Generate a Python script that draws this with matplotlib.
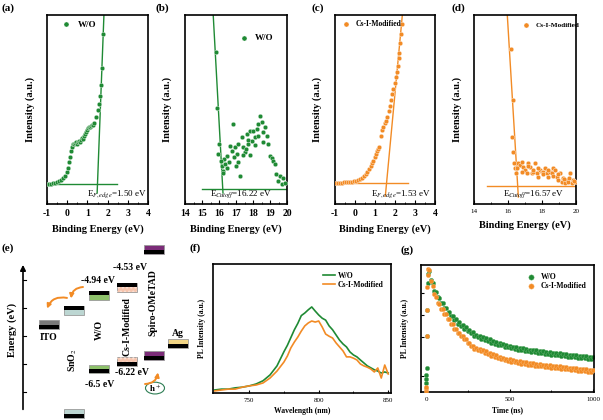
import matplotlib
matplotlib.use('Agg')
import matplotlib.pyplot as plt
from matplotlib.patches import Rectangle, Ellipse, FancyArrowPatch
import numpy as np

plt.rcParams['font.family'] = ['Liberation Serif', 'DejaVu Serif']
plt.rcParams['mathtext.fontset'] = 'stix'
plt.rcParams['axes.unicode_minus'] = False

GREEN = '#1f8a34'
ORANGE = '#f28b25'

# ---- (a) UPS valence edge, W/O
a_x = [-1.0, -0.9, -0.8, -0.7, -0.6, -0.5, -0.4, -0.3, -0.2, -0.1, 0.0, 0.05, 0.1, 0.15,
       0.2, 0.25, 0.3, 0.35, 0.4, 0.45, 0.5, 0.55, 0.6, 0.65, 0.7, 0.75, 0.8, 0.85, 0.9,
       0.95, 1.0, 1.05, 1.1, 1.15, 1.2, 1.25, 1.3, 1.35, 1.42, 1.5, 1.56, 1.62, 1.68, 1.73, 1.78]
a_y = [0.105, 0.107, 0.108, 0.110, 0.112, 0.115, 0.12, 0.128, 0.136, 0.15, 0.17, 0.19, 0.22,
       0.25, 0.28, 0.30, 0.315, 0.32, 0.325, 0.33, 0.32, 0.33, 0.335, 0.33, 0.34, 0.35, 0.345,
       0.36, 0.37, 0.38, 0.39, 0.40, 0.405, 0.41, 0.415, 0.42, 0.42, 0.43, 0.46, 0.50, 0.53,
       0.57, 0.63, 0.72, 0.90]

# ---- (b) secondary electron cutoff, W/O
b_x = [15.80, 15.86, 16.0, 15.96, 16.16, 16.22, 16.35, 16.49, 16.65, 16.75, 16.84, 16.94,
       17.04, 17.14, 17.24, 17.33, 17.43, 17.53, 17.63, 17.73, 17.82, 17.92, 18.02, 18.12,
       18.22, 18.31, 18.41, 18.51, 18.61, 18.71, 18.80, 18.90, 19.0, 19.10, 19.2, 19.29,
       19.35, 19.49, 19.59, 19.69, 19.78, 19.88, 16.3, 16.6, 16.9, 17.1, 17.4, 17.6, 17.0,
       16.45, 16.25, 16.1, 17.7, 18.1, 18.3, 18.6, 17.8]
b_y = [0.805, 0.509, 0.317, 0.264, 0.202, 0.176, 0.211, 0.255, 0.309, 0.282, 0.424, 0.30,
       0.264, 0.317, 0.149, 0.353, 0.30, 0.273, 0.37, 0.317, 0.388, 0.335, 0.388, 0.353,
       0.397, 0.424, 0.468, 0.432, 0.379, 0.406, 0.362, 0.317, 0.255, 0.246, 0.229, 0.211,
       0.158, 0.122, 0.149, 0.105, 0.14, 0.113, 0.24, 0.22, 0.25, 0.22, 0.26, 0.29, 0.20,
       0.19, 0.166, 0.23, 0.34, 0.31, 0.36, 0.33, 0.26]

# ---- (c) UPS valence edge, Cs-I-Modified
c_x = [-0.95, -0.85, -0.75, -0.65, -0.55, -0.45, -0.35, -0.25, -0.15, -0.05, 0.05, 0.15,
       0.25, 0.35, 0.45, 0.55, 0.62, 0.7, 0.78, 0.85, 0.92, 1.0, 1.05, 1.1, 1.15, 1.2, 1.28,
       1.35, 1.42, 1.48, 1.55, 1.62, 1.68, 1.74, 1.8, 1.86, 1.92, 1.98, 2.03, 2.08, 2.13,
       2.18, 2.22, 2.27, 2.31, 2.35]
c_y = [0.11, 0.112, 0.113, 0.112, 0.115, 0.114, 0.116, 0.118, 0.117, 0.12, 0.122, 0.126,
       0.132, 0.14, 0.148, 0.16, 0.17, 0.185, 0.2, 0.215, 0.23, 0.25, 0.265, 0.28, 0.29,
       0.30, 0.36, 0.39, 0.41, 0.43, 0.44, 0.46, 0.49, 0.52, 0.55, 0.58, 0.61, 0.64, 0.67,
       0.70, 0.73, 0.77, 0.80, 0.85, 0.90, 0.95]

# ---- (d) secondary electron cutoff, Cs-I-Modified
d_x = [16.16, 16.27, 16.22, 16.31, 16.37, 16.41, 16.47, 16.51, 16.61, 16.71, 16.80, 16.90,
       17.00, 17.10, 17.20, 17.29, 17.39, 17.49, 17.59, 17.69, 17.78, 17.88, 17.98, 18.08,
       18.18, 18.28, 18.37, 18.47, 18.57, 18.67, 18.76, 18.86, 18.96, 19.06, 19.16, 19.25,
       19.35, 19.45, 19.55, 19.65, 19.74, 19.84, 19.94, 16.55, 16.85, 17.15, 17.45, 17.75,
       18.05, 18.35, 18.65, 18.95, 19.3, 19.6, 19.9]
d_y = [0.818, 0.55, 0.356, 0.277, 0.215, 0.189, 0.162, 0.198, 0.215, 0.205, 0.224, 0.198,
       0.180, 0.162, 0.215, 0.198, 0.162, 0.171, 0.215, 0.162, 0.145, 0.180, 0.171, 0.171,
       0.189, 0.162, 0.145, 0.171, 0.162, 0.189, 0.180, 0.145, 0.127, 0.162, 0.118, 0.136,
       0.109, 0.127, 0.118, 0.162, 0.109, 0.127, 0.118, 0.19, 0.17, 0.20, 0.18, 0.19, 0.16,
       0.18, 0.15, 0.16, 0.13, 0.14, 0.12]

# linear fits: (baseline, edge, slope, baseline start, baseline end, line bottom)
fit_a = (0.108, 1.50, 2.8, -1.0, 2.45, 0.058)
fit_b = (0.081, 16.22, -1.64, 14.98, 20.0, 0.058)
fit_c = (0.113, 1.58, 1.127, -1.0, 2.66, 0.042)
fit_d = (0.095, 16.57, -1.48, 14.75, 20.0, 0.037)

# ---- (e) band diagram (schematic level positions)
layer_names = ['ITO', 'SnO$_2$', 'W/O', 'Cs-I-Modified', 'Spiro-OMeTAD', 'Ag']
layer_x = [49, 74, 99, 127, 154, 178]
layer_colors = ['#7a7a7a', '#bcd6d2', '#8dc16a', '#f6c4ad', '#7b2c78', '#f2d584']
upper_level = [-4.80, -4.54, -4.28, -4.13, -3.46, -5.13]
lower_level = [None, -6.38, -5.59, -5.45, -5.35, None]
energy_ticks = [-4.0, -4.5, -5.0, -5.5, -6.0]

# ---- (f) steady-state PL
wl = [725, 730, 735, 740, 745, 750, 755, 760, 765, 770, 775, 777.5, 780, 782.5, 785, 787.5,
      790, 792.5, 795, 797.5, 800, 802.5, 805, 807.5, 810, 812.5, 815, 817.5, 820, 822.5,
      825, 827.5, 830, 832.5, 835, 837.5, 840, 842.5, 845, 847.5, 850]
pl_wo = [0.023, 0.03, 0.03, 0.04, 0.045, 0.055, 0.07, 0.095, 0.14, 0.21, 0.32, 0.37, 0.43,
         0.49, 0.54, 0.60, 0.62, 0.645, 0.667, 0.635, 0.605, 0.58, 0.565, 0.52, 0.49, 0.45,
         0.41, 0.38, 0.357, 0.318, 0.295, 0.28, 0.256, 0.233, 0.21, 0.195, 0.18, 0.17, 0.155,
         0.163, 0.155]
pl_cs = [0.016, 0.023, 0.03, 0.03, 0.045, 0.055, 0.062, 0.078, 0.116, 0.17, 0.24, 0.287,
         0.35, 0.395, 0.434, 0.48, 0.52, 0.543, 0.558, 0.55, 0.558, 0.512, 0.457, 0.44, 0.426,
         0.388, 0.357, 0.326, 0.28, 0.28, 0.27, 0.256, 0.225, 0.21, 0.2, 0.186, 0.163, 0.194,
         0.116, 0.217, 0.147]

# ---- (g) TRPL decay (rise points, then every 10 ns from 20 to 1000 ns)
t_ns = [-2, 0, 2, 4, 6, 8, 10, 14] + list(range(20, 1001, 10))
tr_wo = [0.06, 0.10, 0.13, 0.19, 0.45, 0.66, 0.88, 0.96,
         0.98, 0.91, 0.88, 0.82, 0.81, 0.77, 0.76, 0.72, 0.72, 0.68, 0.68, 0.64, 0.645,
         0.61, 0.615, 0.58, 0.585, 0.55, 0.56, 0.53, 0.54, 0.51, 0.52, 0.49, 0.50, 0.47,
         0.48, 0.45,
         0.46, 0.44, 0.45, 0.425, 0.44, 0.415, 0.43, 0.405, 0.42, 0.395, 0.41, 0.385, 0.40,
         0.378, 0.39, 0.372, 0.385, 0.362, 0.378, 0.355, 0.37, 0.348, 0.362, 0.342, 0.357,
         0.338, 0.352, 0.332, 0.347, 0.328, 0.342, 0.322, 0.338, 0.318, 0.334, 0.315, 0.33,
         0.31, 0.326, 0.307, 0.323, 0.303, 0.319, 0.30, 0.316, 0.297, 0.313, 0.294, 0.31,
         0.29, 0.306, 0.287, 0.303, 0.284, 0.30, 0.28, 0.296, 0.277, 0.293, 0.274, 0.29,
         0.272, 0.288, 0.268, 0.285, 0.266, 0.283, 0.263, 0.28, 0.26, 0.276]
tr_cs = [0.0, 0.02, 0.03, 0.45, 0.66, 0.85, 0.95, 1.0,
         0.99, 0.90, 0.86, 0.79, 0.77, 0.72, 0.71, 0.67, 0.67, 0.63, 0.63, 0.59, 0.585,
         0.545, 0.545, 0.51, 0.51, 0.475, 0.475, 0.445, 0.45, 0.42, 0.425, 0.39, 0.395,
         0.365, 0.37, 0.345,
         0.35, 0.333, 0.345, 0.322, 0.335, 0.31, 0.322, 0.30, 0.312, 0.287, 0.30, 0.275,
         0.29, 0.266, 0.28, 0.258, 0.272, 0.25, 0.264, 0.243, 0.258, 0.238, 0.252, 0.232,
         0.247, 0.228, 0.243, 0.223, 0.238, 0.219, 0.234, 0.215, 0.23, 0.211, 0.226, 0.207,
         0.222, 0.203, 0.218, 0.199, 0.214, 0.196, 0.211, 0.193, 0.208, 0.19, 0.205, 0.187,
         0.202, 0.184, 0.199, 0.181, 0.196, 0.178, 0.193, 0.175, 0.19, 0.172, 0.187, 0.169,
         0.184, 0.166, 0.181, 0.163, 0.178, 0.16, 0.175, 0.157, 0.172, 0.154, 0.168]

W, H = 603, 420
fig = plt.figure(figsize=(W / 100, H / 100), dpi=100)


def px_axes(l, t, r, b):
    return fig.add_axes([l / W, 1 - b / H, (r - l) / W, (b - t) / H])


def frame(ax, lw=1.2):
    for s in ax.spines.values():
        s.set_linewidth(lw)


def ups_panel(ax, x, y, color, label, fit, xlim, text, text_x, legend_anchor, legend_fs):
    base, edge, slope, base_from, base_to, line_lo = fit
    ax.scatter(x, y, s=11, color=color, edgecolors='#ffffff', linewidths=0.25, zorder=3,
               label=label)
    ax.plot([base_from, base_to], [base, base], color=color, lw=1.0)
    ly = np.array([line_lo, 1.05])
    ax.plot(edge + (ly - base) / slope, ly, color=color, lw=1.0)
    ax.set_xlim(*xlim)
    ax.set_ylim(0, 1)
    ax.set_yticks([])
    ax.tick_params(axis='x', direction='in', length=3, width=0.8, top=False)
    ax.set_ylabel('Intensity (a.u.)', fontsize=7.5, fontweight='bold', labelpad=9)
    ax.set_xlabel('Binding Energy (eV)', fontsize=7.5, fontweight='bold', labelpad=5)
    ax.text(text_x, 0.05, text, fontsize=6.5, ha='left', va='center')
    ax.legend(loc='upper left', bbox_to_anchor=legend_anchor, frameon=False,
              handletextpad=0.3, borderaxespad=0, markerscale=1.1,
              prop={'weight': 'bold', 'size': legend_fs})
    frame(ax)


ax_a = px_axes(47, 15, 148, 204)
ups_panel(ax_a, a_x, a_y, GREEN, 'W/O', fit_a, (-1, 4), r'E$_{F,edge}$=1.50 eV', 1.0,
          (0.06, 0.99), 6.5)
ax_a.set_xticks([-1, 0, 1, 2, 3, 4])
ax_a.set_xticks(np.arange(-1, 4.01, 0.5), minor=True)

ax_b = px_axes(185, 15, 287, 204)
ups_panel(ax_b, b_x, b_y, GREEN, 'W/O', fit_b, (14, 20), r'E$_{Cutoff}$=16.22 eV', 15.45,
          (0.45, 0.92), 6.5)
ax_b.set_xticks(range(14, 21))
ax_b.set_xticks(np.arange(14, 20.01, 0.5), minor=True)

ax_c = px_axes(335, 15, 435, 204)
ups_panel(ax_c, c_x, c_y, ORANGE, 'Cs-I-Modified', fit_c, (-1, 4), r'E$_{F,edge}$=1.53 eV',
          0.82, (0.0, 0.99), 5.5)
ax_c.set_xticks([-1, 0, 1, 2, 3, 4])
ax_c.set_xticks(np.arange(-1, 4.01, 0.5), minor=True)

ax_d = px_axes(474, 15, 576, 204)
ups_panel(ax_d, d_x, d_y, ORANGE, 'Cs-I-Modified', fit_d, (14, 20), r'E$_{Cutoff}$=16.57 eV',
          15.7, (0.41, 0.98), 5.2)
ax_d.set_xticks([14, 16, 18, 20])
ax_d.set_xticks([15, 17, 19], minor=True)

for ax in (ax_a, ax_b, ax_c):
    for lab in ax.get_xticklabels():
        lab.set_fontsize(7)
        lab.set_fontweight('bold')
for lab in ax_d.get_xticklabels():
    lab.set_fontsize(5)
for ax in (ax_a, ax_b, ax_c, ax_d):
    ax.tick_params(axis='x', which='minor', direction='in', length=1.8, width=0.6)

# ---- (e) band diagram
ax_e = px_axes(0, 230, 220, 420)
ax_e.set_xlim(0, 220)
ax_e.set_ylim(-6.5, -3.107)
ax_e.axis('off')
box_w, box_h = 20, 0.155


def level_box(xc, yc, color, black_top):
    x0 = xc - box_w / 2
    y0 = yc - box_h / 2
    ax_e.add_patch(Rectangle((x0, y0), box_w, box_h, facecolor=color, edgecolor='#9a9a9a',
                             lw=0.6))
    if color == '#f6c4ad':
        ax_e.add_patch(Rectangle((x0, y0), box_w, box_h, facecolor='none',
                                 edgecolor='#fbe2d6', hatch='....', lw=0))
    by = y0 + box_h * 0.55 if black_top else y0
    ax_e.add_patch(Rectangle((x0, by), box_w, box_h * 0.45, facecolor='black', lw=0))


for i, name in enumerate(layer_names):
    level_box(layer_x[i], upper_level[i], layer_colors[i], black_top=i in (1, 2, 3))
    if lower_level[i] is not None:
        level_box(layer_x[i], lower_level[i], layer_colors[i], black_top=False)

txt = dict(fontsize=7, fontweight='bold', ha='center', va='center')
ax_e.text(49, -5.02, 'ITO', **txt)
ax_e.text(178, -4.95, 'Ag', **txt)
ax_e.text(73, -5.43, 'SnO$_2$', rotation=90, **txt)
ax_e.text(99, -4.89, 'W/O', rotation=90, **txt)
ax_e.text(127, -4.84, 'Cs-I-Modified', rotation=90, **txt)
ax_e.text(153, -4.41, 'Spiro-OMeTAD', rotation=90, **txt)
ax_e.text(98, -4.0, '-4.94 eV', **txt)
ax_e.text(130, -3.77, '-4.53 eV', **txt)
ax_e.text(100, -5.86, '-6.5 eV', **txt)
ax_e.text(132, -5.66, '-6.22 eV', **txt)
ax_e.text(12, -4.89, 'Energy (eV)', rotation=90, fontsize=7.5, fontweight='bold',
          ha='center', va='center')
ax_e.add_patch(Ellipse((155, -5.93), 19, 0.21, facecolor='white', edgecolor='#2f7f55',
                       lw=0.8))
ax_e.text(155, -5.93, 'h$^+$', fontsize=6.5, fontweight='bold', ha='center', va='center')
ax_e.annotate('', xy=(23, -3.68), xytext=(23, -6.36),
              arrowprops=dict(arrowstyle='-|>', color='black', lw=1.2, mutation_scale=8))
for e in energy_ticks:
    ax_e.plot([23, 26], [e, e], color='black', lw=0.8)
for start, end in [((83, -4.125), (71, -4.33)), ((67, -4.32), (47, -4.51)),
                   ((145, -5.857), (158, -5.65))]:
    ax_e.add_patch(FancyArrowPatch(start, end, connectionstyle='arc3,rad=0.4',
                                   arrowstyle='-|>', mutation_scale=6, color=ORANGE, lw=1.4,
                                   shrinkA=0, shrinkB=0))

# ---- (f) PL
ax_f = px_axes(213, 264, 391, 393)
ax_f.plot(wl, pl_wo, color=GREEN, lw=1.2, label='W/O')
ax_f.plot(wl, pl_cs, color=ORANGE, lw=1.2, label='Cs-I-Modified')
ax_f.set_xlim(724, 852)
ax_f.set_ylim(0, 1)
ax_f.set_yticks([])
ax_f.set_xticks([750, 800, 850])
ax_f.set_xticks([775, 825], minor=True)
ax_f.tick_params(axis='x', direction='in', length=2.5, labelsize=5, width=0.8)
ax_f.tick_params(axis='x', which='minor', direction='in', length=1.8)
ax_f.set_xlabel('Wavelength (nm)', fontsize=5.5, fontweight='bold', labelpad=3)
ax_f.set_ylabel('PL Intensity (a.u.)', fontsize=5.5, fontweight='bold', labelpad=5)
ax_f.legend(loc='upper right', frameon=False, handlelength=1.6, handletextpad=0.3,
            labelspacing=0.2, borderaxespad=0.6, prop={'weight': 'bold', 'size': 5.5})
frame(ax_f)

# ---- (g) TRPL
ax_g = px_axes(421, 265, 594, 392)
ax_g.scatter(t_ns, tr_wo, s=10, color=GREEN, edgecolors='#5fae6a', lw=0.3, label='W/O',
             zorder=2)
ax_g.scatter(t_ns, tr_cs, s=10, color=ORANGE, edgecolors='#f8b36a', lw=0.3,
             label='Cs-I-Modified', zorder=3)
ax_g.set_xlim(-30, 1005)
ax_g.set_ylim(-0.01, 1.03)
ax_g.set_yticks([0.12, 0.44, 0.62, 0.8])
ax_g.set_yticklabels([])
ax_g.set_xticks([0, 500, 1000])
ax_g.set_xticks([250, 750], minor=True)
ax_g.tick_params(axis='both', direction='in', length=2.5, labelsize=5, width=0.8)
ax_g.tick_params(axis='x', which='minor', direction='in', length=1.8)
ax_g.set_xlabel('Time (ns)', fontsize=5.5, fontweight='bold', labelpad=3)
ax_g.set_ylabel('PL Intensity (a.u.)', fontsize=5.5, fontweight='bold', labelpad=5)
ax_g.legend(loc='upper right', frameon=False, handletextpad=0.2, labelspacing=0.2,
            borderaxespad=0.6, markerscale=1.2, prop={'weight': 'bold', 'size': 5.5})
frame(ax_g)

# panel labels
for lab, x, y in [('(a)', 8, 8), ('(b)', 162, 8), ('(c)', 318, 8), ('(d)', 458, 8),
                  ('(e)', 8, 248), ('(f)', 195, 248), ('(g)', 407, 250)]:
    fig.text(x / W, 1 - y / H, lab, fontsize=8, fontweight='bold', ha='center', va='center')

fig.savefig('out.png', dpi=100)
